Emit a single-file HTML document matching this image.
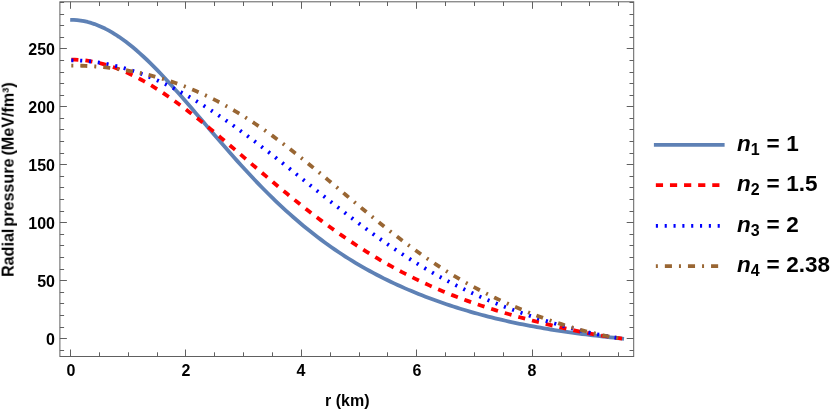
<!DOCTYPE html>
<html><head><meta charset="utf-8"><title>Radial pressure</title>
<style>
html,body{margin:0;padding:0;background:#fff;}
body{width:830px;height:410px;position:relative;overflow:hidden;font-family:"Liberation Sans",sans-serif;font-weight:bold;color:#000;}
.t{position:absolute;white-space:nowrap;line-height:1;font-size:16px;will-change:transform;}
.yl{text-align:right;width:40px;left:14.5px;}
.xl{text-align:center;width:40px;}
.lg{position:absolute;white-space:nowrap;line-height:1;will-change:transform;font-size:22.5px;left:737.4px;word-spacing:0.5px;}
.lg i{font-style:italic;}
.lg sub{font-size:16px;vertical-align:baseline;position:relative;top:4.2px;line-height:0;}
</style></head><body>
<svg width="830" height="410" viewBox="0 0 830 410" style="position:absolute;left:0;top:0">
<g fill="none" stroke-width="3.8" stroke-linejoin="round">
<path d="M70.20 19.78 L73.68 19.86 L77.17 20.12 L80.65 20.56 L84.13 21.18 L87.62 21.97 L91.10 22.95 L94.58 24.10 L98.06 25.43 L101.55 26.92 L105.03 28.58 L108.51 30.40 L112.00 32.38 L115.48 34.51 L118.96 36.79 L122.45 39.22 L125.93 41.78 L129.41 44.48 L132.89 47.30 L136.38 50.25 L139.86 53.31 L143.34 56.49 L146.83 59.76 L150.31 63.13 L153.79 66.60 L157.28 70.14 L160.76 73.77 L164.24 77.46 L167.72 81.23 L171.21 85.05 L174.69 88.92 L178.17 92.83 L181.66 96.79 L185.14 100.78 L188.62 104.80 L192.11 108.84 L195.59 112.90 L199.07 116.97 L202.55 121.05 L206.04 125.12 L209.52 129.20 L213.00 133.26 L216.49 137.31 L219.97 141.35 L223.45 145.36 L226.94 149.35 L230.42 153.31 L233.90 157.24 L237.38 161.13 L240.87 164.99 L244.35 168.81 L247.83 172.58 L251.32 176.31 L254.80 180.00 L258.28 183.63 L261.77 187.21 L265.25 190.75 L268.73 194.23 L272.22 197.65 L275.70 201.02 L279.18 204.33 L282.66 207.59 L286.15 210.79 L289.63 213.94 L293.11 217.02 L296.60 220.05 L300.08 223.02 L303.56 225.93 L307.05 228.79 L310.53 231.58 L314.01 234.32 L317.49 237.01 L320.98 239.64 L324.46 242.21 L327.94 244.73 L331.43 247.20 L334.91 249.61 L338.39 251.97 L341.88 254.28 L345.36 256.54 L348.84 258.75 L352.32 260.91 L355.81 263.02 L359.29 265.09 L362.77 267.11 L366.26 269.08 L369.74 271.01 L373.22 272.90 L376.71 274.75 L380.19 276.55 L383.67 278.32 L387.15 280.05 L390.64 281.73 L394.12 283.38 L397.60 285.00 L401.09 286.58 L404.57 288.12 L408.05 289.63 L411.54 291.11 L415.02 292.55 L418.50 293.97 L421.98 295.35 L425.47 296.70 L428.95 298.02 L432.43 299.32 L435.92 300.58 L439.40 301.82 L442.88 303.03 L446.37 304.22 L449.85 305.38 L453.33 306.51 L456.82 307.62 L460.30 308.71 L463.78 309.77 L467.26 310.80 L470.75 311.82 L474.23 312.81 L477.71 313.78 L481.20 314.72 L484.68 315.65 L488.16 316.55 L491.65 317.44 L495.13 318.30 L498.61 319.14 L502.09 319.96 L505.58 320.76 L509.06 321.54 L512.54 322.31 L516.03 323.05 L519.51 323.77 L522.99 324.48 L526.48 325.17 L529.96 325.84 L533.44 326.49 L536.92 327.13 L540.41 327.74 L543.89 328.35 L547.37 328.93 L550.86 329.50 L554.34 330.06 L557.82 330.60 L561.31 331.12 L564.79 331.63 L568.27 332.13 L571.75 332.62 L575.24 333.09 L578.72 333.55 L582.20 334.00 L585.69 334.44 L589.17 334.86 L592.65 335.28 L596.14 335.69 L599.62 336.10 L603.10 336.50 L606.58 336.89 L610.07 337.27 L613.55 337.66 L617.03 338.04 L620.52 338.42 L624.00 338.80" stroke="#5E81B5"/>
<path d="M71.30 59.54 L74.78 59.61 L78.25 59.79 L81.73 60.07 L85.20 60.45 L88.68 60.93 L92.16 61.51 L95.63 62.19 L99.11 62.97 L102.58 63.85 L106.06 64.82 L109.54 65.89 L113.01 67.05 L116.49 68.31 L119.97 69.65 L123.44 71.09 L126.92 72.60 L130.39 74.21 L133.87 75.90 L137.35 77.66 L140.82 79.51 L144.30 81.43 L147.77 83.42 L151.25 85.49 L154.73 87.62 L158.20 89.82 L161.68 92.08 L165.15 94.41 L168.63 96.79 L172.11 99.22 L175.58 101.71 L179.06 104.25 L182.54 106.84 L186.01 109.46 L189.49 112.14 L192.96 114.85 L196.44 117.59 L199.92 120.37 L203.39 123.18 L206.87 126.02 L210.34 128.88 L213.82 131.77 L217.30 134.67 L220.77 137.60 L224.25 140.53 L227.72 143.49 L231.20 146.45 L234.68 149.42 L238.15 152.40 L241.63 155.38 L245.11 158.36 L248.58 161.34 L252.06 164.32 L255.53 167.29 L259.01 170.26 L262.49 173.22 L265.96 176.17 L269.44 179.11 L272.91 182.04 L276.39 184.95 L279.87 187.84 L283.34 190.72 L286.82 193.58 L290.29 196.42 L293.77 199.23 L297.25 202.03 L300.72 204.80 L304.20 207.54 L307.67 210.26 L311.15 212.95 L314.63 215.62 L318.10 218.26 L321.58 220.87 L325.06 223.44 L328.53 225.99 L332.01 228.51 L335.48 230.99 L338.96 233.45 L342.44 235.87 L345.91 238.26 L349.39 240.61 L352.86 242.93 L356.34 245.22 L359.82 247.47 L363.29 249.69 L366.77 251.88 L370.24 254.03 L373.72 256.15 L377.20 258.23 L380.67 260.27 L384.15 262.29 L387.63 264.27 L391.10 266.21 L394.58 268.12 L398.05 269.99 L401.53 271.84 L405.01 273.64 L408.48 275.42 L411.96 277.16 L415.43 278.87 L418.91 280.55 L422.39 282.19 L425.86 283.80 L429.34 285.38 L432.81 286.94 L436.29 288.46 L439.77 289.95 L443.24 291.41 L446.72 292.84 L450.19 294.24 L453.67 295.62 L457.15 296.96 L460.62 298.28 L464.10 299.58 L467.58 300.85 L471.05 302.09 L474.53 303.31 L478.00 304.51 L481.48 305.68 L484.96 306.83 L488.43 307.96 L491.91 309.06 L495.38 310.15 L498.86 311.22 L502.34 312.26 L505.81 313.29 L509.29 314.30 L512.76 315.29 L516.24 316.26 L519.72 317.22 L523.19 318.16 L526.67 319.09 L530.15 320.00 L533.62 320.90 L537.10 321.78 L540.57 322.65 L544.05 323.51 L547.53 324.35 L551.00 325.18 L554.48 325.99 L557.95 326.79 L561.43 327.58 L564.91 328.36 L568.38 329.12 L571.86 329.87 L575.33 330.60 L578.81 331.32 L582.29 332.03 L585.76 332.71 L589.24 333.38 L592.72 334.03 L596.19 334.66 L599.67 335.27 L603.14 335.85 L606.62 336.41 L610.10 336.95 L613.57 337.46 L617.05 337.94 L620.52 338.38 L624.00 338.80" stroke="#FF0000" stroke-dasharray="7.1 7.04"/>
<path d="M71.30 60.34 L74.78 60.39 L78.25 60.50 L81.73 60.68 L85.20 60.93 L88.68 61.25 L92.16 61.63 L95.63 62.07 L99.11 62.58 L102.58 63.16 L106.06 63.80 L109.54 64.50 L113.01 65.27 L116.49 66.10 L119.97 67.00 L123.44 67.96 L126.92 68.98 L130.39 70.06 L133.87 71.20 L137.35 72.40 L140.82 73.66 L144.30 74.97 L147.77 76.35 L151.25 77.78 L154.73 79.27 L158.20 80.81 L161.68 82.41 L165.15 84.06 L168.63 85.77 L172.11 87.52 L175.58 89.32 L179.06 91.18 L182.54 93.08 L186.01 95.03 L189.49 97.02 L192.96 99.06 L196.44 101.15 L199.92 103.27 L203.39 105.44 L206.87 107.65 L210.34 109.89 L213.82 112.18 L217.30 114.50 L220.77 116.86 L224.25 119.25 L227.72 121.67 L231.20 124.12 L234.68 126.61 L238.15 129.12 L241.63 131.66 L245.11 134.23 L248.58 136.82 L252.06 139.43 L255.53 142.07 L259.01 144.73 L262.49 147.40 L265.96 150.09 L269.44 152.80 L272.91 155.53 L276.39 158.26 L279.87 161.01 L283.34 163.77 L286.82 166.54 L290.29 169.32 L293.77 172.10 L297.25 174.88 L300.72 177.67 L304.20 180.46 L307.67 183.25 L311.15 186.04 L314.63 188.83 L318.10 191.61 L321.58 194.38 L325.06 197.15 L328.53 199.91 L332.01 202.66 L335.48 205.40 L338.96 208.13 L342.44 210.84 L345.91 213.53 L349.39 216.22 L352.86 218.88 L356.34 221.52 L359.82 224.14 L363.29 226.74 L366.77 229.32 L370.24 231.88 L373.72 234.41 L377.20 236.91 L380.67 239.39 L384.15 241.84 L387.63 244.27 L391.10 246.66 L394.58 249.02 L398.05 251.36 L401.53 253.66 L405.01 255.93 L408.48 258.16 L411.96 260.37 L415.43 262.54 L418.91 264.68 L422.39 266.78 L425.86 268.85 L429.34 270.88 L432.81 272.88 L436.29 274.85 L439.77 276.78 L443.24 278.68 L446.72 280.54 L450.19 282.36 L453.67 284.16 L457.15 285.91 L460.62 287.64 L464.10 289.33 L467.58 290.99 L471.05 292.62 L474.53 294.21 L478.00 295.77 L481.48 297.31 L484.96 298.81 L488.43 300.28 L491.91 301.72 L495.38 303.14 L498.86 304.52 L502.34 305.88 L505.81 307.22 L509.29 308.52 L512.76 309.81 L516.24 311.06 L519.72 312.30 L523.19 313.51 L526.67 314.70 L530.15 315.87 L533.62 317.01 L537.10 318.14 L540.57 319.24 L544.05 320.33 L547.53 321.40 L551.00 322.44 L554.48 323.47 L557.95 324.47 L561.43 325.46 L564.91 326.43 L568.38 327.38 L571.86 328.30 L575.33 329.20 L578.81 330.08 L582.29 330.94 L585.76 331.77 L589.24 332.58 L592.72 333.36 L596.19 334.10 L599.67 334.82 L603.14 335.50 L606.62 336.15 L610.10 336.76 L613.57 337.34 L617.05 337.87 L620.52 338.36" stroke="#0000FF" stroke-dasharray="2.1 6.75"/>
<path d="M71.30 65.57 L74.78 65.60 L78.25 65.66 L81.73 65.76 L85.20 65.89 L88.68 66.06 L92.16 66.27 L95.63 66.51 L99.11 66.79 L102.58 67.11 L106.06 67.46 L109.54 67.85 L113.01 68.28 L116.49 68.75 L119.97 69.25 L123.44 69.80 L126.92 70.38 L130.39 71.01 L133.87 71.67 L137.35 72.38 L140.82 73.13 L144.30 73.92 L147.77 74.75 L151.25 75.63 L154.73 76.55 L158.20 77.51 L161.68 78.52 L165.15 79.58 L168.63 80.68 L172.11 81.83 L175.58 83.03 L179.06 84.27 L182.54 85.56 L186.01 86.90 L189.49 88.29 L192.96 89.72 L196.44 91.21 L199.92 92.74 L203.39 94.33 L206.87 95.96 L210.34 97.65 L213.82 99.38 L217.30 101.16 L220.77 103.00 L224.25 104.88 L227.72 106.81 L231.20 108.79 L234.68 110.82 L238.15 112.90 L241.63 115.03 L245.11 117.20 L248.58 119.42 L252.06 121.68 L255.53 123.99 L259.01 126.34 L262.49 128.73 L265.96 131.17 L269.44 133.64 L272.91 136.16 L276.39 138.71 L279.87 141.30 L283.34 143.92 L286.82 146.58 L290.29 149.27 L293.77 151.98 L297.25 154.73 L300.72 157.50 L304.20 160.29 L307.67 163.11 L311.15 165.94 L314.63 168.80 L318.10 171.67 L321.58 174.56 L325.06 177.45 L328.53 180.36 L332.01 183.27 L335.48 186.19 L338.96 189.12 L342.44 192.04 L345.91 194.96 L349.39 197.88 L352.86 200.80 L356.34 203.71 L359.82 206.60 L363.29 209.49 L366.77 212.36 L370.24 215.22 L373.72 218.06 L377.20 220.88 L380.67 223.69 L384.15 226.47 L387.63 229.22 L391.10 231.95 L394.58 234.65 L398.05 237.33 L401.53 239.97 L405.01 242.59 L408.48 245.17 L411.96 247.72 L415.43 250.24 L418.91 252.72 L422.39 255.17 L425.86 257.58 L429.34 259.96 L432.81 262.29 L436.29 264.59 L439.77 266.86 L443.24 269.08 L446.72 271.27 L450.19 273.42 L453.67 275.53 L457.15 277.60 L460.62 279.63 L464.10 281.63 L467.58 283.59 L471.05 285.51 L474.53 287.40 L478.00 289.25 L481.48 291.06 L484.96 292.84 L488.43 294.58 L491.91 296.29 L495.38 297.97 L498.86 299.61 L502.34 301.22 L505.81 302.80 L509.29 304.35 L512.76 305.87 L516.24 307.35 L519.72 308.81 L523.19 310.24 L526.67 311.64 L530.15 313.01 L533.62 314.36 L537.10 315.68 L540.57 316.97 L544.05 318.24 L547.53 319.47 L551.00 320.69 L554.48 321.87 L557.95 323.03 L561.43 324.16 L564.91 325.26 L568.38 326.34 L571.86 327.38 L575.33 328.40 L578.81 329.38 L582.29 330.34 L585.76 331.26 L589.24 332.14 L592.72 332.99 L596.19 333.80 L599.67 334.58 L603.14 335.31 L606.62 336.01 L610.10 336.66 L613.57 337.26 L617.05 337.82 L620.52 338.33 L624.00 338.80" stroke="#996633" stroke-dasharray="2 7 7 7"/>
</g>
<g stroke="#606060" stroke-width="1" fill="none" shape-rendering="auto">
<rect x="59.9" y="1.8" width="573.8000000000001" height="354.7"/>
<path d="M70.50 356.5 V349.50 M70.50 1.8 V8.80 M99.50 356.5 V352.30 M99.50 1.8 V6.00 M128.50 356.5 V352.30 M128.50 1.8 V6.00 M157.50 356.5 V352.30 M157.50 1.8 V6.00 M185.50 356.5 V349.50 M185.50 1.8 V8.80 M214.50 356.5 V352.30 M214.50 1.8 V6.00 M243.50 356.5 V352.30 M243.50 1.8 V6.00 M272.50 356.5 V352.30 M272.50 1.8 V6.00 M301.50 356.5 V349.50 M301.50 1.8 V8.80 M330.50 356.5 V352.30 M330.50 1.8 V6.00 M359.50 356.5 V352.30 M359.50 1.8 V6.00 M387.50 356.5 V352.30 M387.50 1.8 V6.00 M416.50 356.5 V349.50 M416.50 1.8 V8.80 M445.50 356.5 V352.30 M445.50 1.8 V6.00 M474.50 356.5 V352.30 M474.50 1.8 V6.00 M503.50 356.5 V352.30 M503.50 1.8 V6.00 M532.50 356.5 V349.50 M532.50 1.8 V8.80 M561.50 356.5 V352.30 M561.50 1.8 V6.00 M589.50 356.5 V352.30 M589.50 1.8 V6.00 M618.50 356.5 V352.30 M618.50 1.8 V6.00 M59.9 350.50 H64.10 M633.7 350.50 H629.50 M59.9 338.50 H66.90 M633.7 338.50 H626.70 M59.9 327.50 H64.10 M633.7 327.50 H629.50 M59.9 315.50 H64.10 M633.7 315.50 H629.50 M59.9 303.50 H64.10 M633.7 303.50 H629.50 M59.9 292.50 H64.10 M633.7 292.50 H629.50 M59.9 280.50 H66.90 M633.7 280.50 H626.70 M59.9 269.50 H64.10 M633.7 269.50 H629.50 M59.9 257.50 H64.10 M633.7 257.50 H629.50 M59.9 245.50 H64.10 M633.7 245.50 H629.50 M59.9 234.50 H64.10 M633.7 234.50 H629.50 M59.9 222.50 H66.90 M633.7 222.50 H626.70 M59.9 211.50 H64.10 M633.7 211.50 H629.50 M59.9 199.50 H64.10 M633.7 199.50 H629.50 M59.9 187.50 H64.10 M633.7 187.50 H629.50 M59.9 176.50 H64.10 M633.7 176.50 H629.50 M59.9 164.50 H66.90 M633.7 164.50 H626.70 M59.9 153.50 H64.10 M633.7 153.50 H629.50 M59.9 141.50 H64.10 M633.7 141.50 H629.50 M59.9 129.50 H64.10 M633.7 129.50 H629.50 M59.9 118.50 H64.10 M633.7 118.50 H629.50 M59.9 106.50 H66.90 M633.7 106.50 H626.70 M59.9 95.50 H64.10 M633.7 95.50 H629.50 M59.9 83.50 H64.10 M633.7 83.50 H629.50 M59.9 72.50 H64.10 M633.7 72.50 H629.50 M59.9 60.50 H64.10 M633.7 60.50 H629.50 M59.9 48.50 H66.90 M633.7 48.50 H626.70 M59.9 37.50 H64.10 M633.7 37.50 H629.50 M59.9 25.50 H64.10 M633.7 25.50 H629.50 M59.9 14.50 H64.10 M633.7 14.50 H629.50 M59.9 2.50 H64.10 M633.7 2.50 H629.50"/>
</g>
<g fill="none" stroke-width="3.8">
<path d="M653.9 144.9 H724.6" stroke="#5E81B5"/>
<path d="M655.85 185.2 H720" stroke="#FF0000" stroke-dasharray="7.2 6.9"/>
<path d="M655.85 225.9 H720" stroke="#0000FF" stroke-dasharray="2.1 6.73"/>
<path d="M655.85 266.1 H720" stroke="#996633" stroke-dasharray="2 7 7.1 7"/>
</g>
</svg>
<div class="t yl" style="top:332.30px">0</div>
<div class="t yl" style="top:274.32px">50</div>
<div class="t yl" style="top:216.34px">100</div>
<div class="t yl" style="top:158.36px">150</div>
<div class="t yl" style="top:100.38px">200</div>
<div class="t yl" style="top:42.40px">250</div>
<div class="t xl" style="left:50.50px;top:362.5px">0</div>
<div class="t xl" style="left:165.94px;top:362.5px">2</div>
<div class="t xl" style="left:281.38px;top:362.5px">4</div>
<div class="t xl" style="left:396.82px;top:362.5px">6</div>
<div class="t xl" style="left:512.26px;top:362.5px">8</div>
<div class="t" id="xlab" style="left:325px;top:393px">r (km)</div>
<div class="t" id="ylab" style="left:0;top:0;font-size:16.1px;word-spacing:-2.4px;transform-origin:0 0;transform:translate(-0.4px,276.9px) rotate(-90deg)">Radial pressure<span style="word-spacing:-1.4px"> </span>(MeV/fm<span style="font-size:9.5px;position:relative;top:-5.5px;line-height:0">3</span>)</div>
<div class="lg" style="top:132.70px"><i>n</i><sub>1</sub> = 1</div>
<div class="lg" style="top:173.00px"><i>n</i><sub>2</sub> = 1.5</div>
<div class="lg" style="top:213.70px"><i>n</i><sub>3</sub> = 2</div>
<div class="lg" style="top:253.90px"><i>n</i><sub>4</sub> = 2.38</div>
</body></html>
